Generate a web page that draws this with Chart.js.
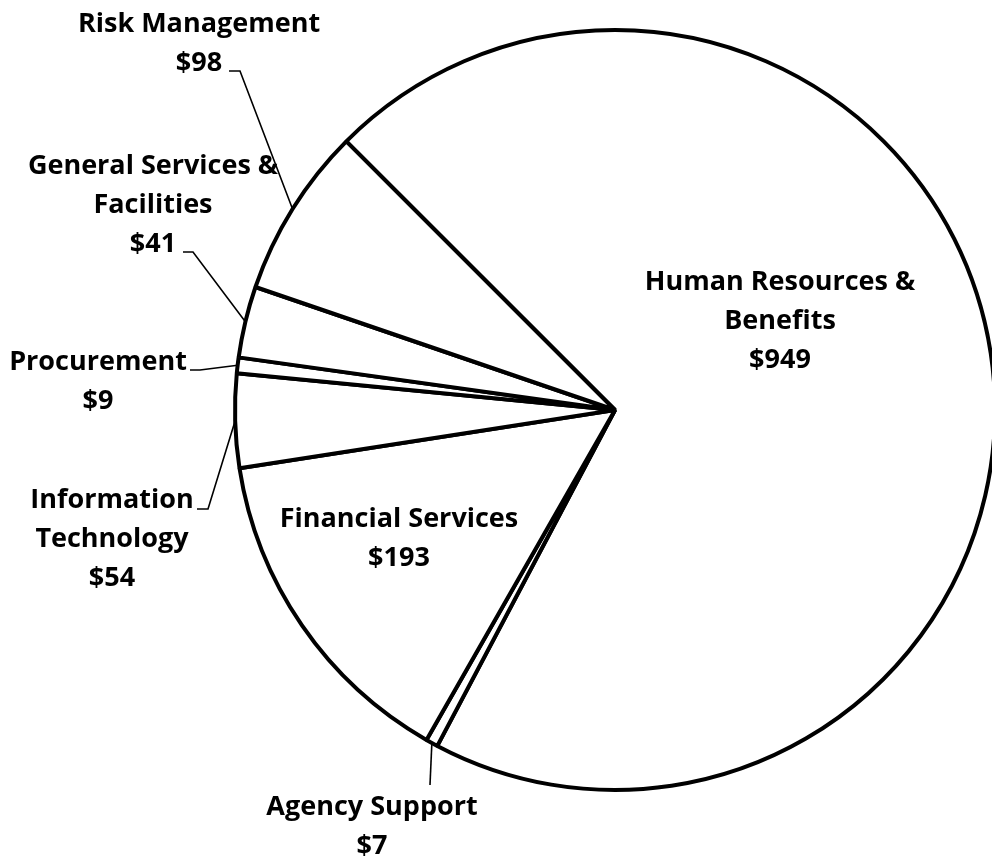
<!DOCTYPE html>
<html lang="en">
<head>
<meta charset="UTF-8">
<title>Spending by Function</title>
<style>
    html, body { margin: 0; padding: 0; background: #fff; overflow: hidden; }
    #wrap { width: 992px; height: 859px; position: relative; }
</style>
</head>
<body>
<div id="wrap"><canvas id="pieChart"></canvas></div>

<script src="https://cdn.jsdelivr.net/npm/chart.js"></script>
<script>
    // slices, clockwise from the upper-left boundary
    const categories = ['Human Resources &\nBenefits', 'Agency Support', 'Financial Services',
        'Information\nTechnology', 'Procurement', 'General Services &\nFacilities', 'Risk Management'];
    const amounts = [949, 7, 193, 54, 9, 41, 98];
    const valueLabels = amounts.map(v => '$' + v);

    // label placement: centre x, first baseline y, leader line points (ends at the slice edge)
    const labelLayout = [
        { x: 780, y: 290 },
        { x: 372, y: 815, leader: [[430, 785]] },
        { x: 399, y: 527 },
        { x: 112, y: 508, leader: [[197, 509], [208, 509]] },
        { x: 98, y: 370, leader: [[190, 370], [200, 370]] },
        { x: 153, y: 174, leader: [[183, 252], [193, 252]] },
        { x: 199, y: 32, leader: [[229, 71], [240, 71]] }
    ];
    const LINE_H = 39;
    const FONT = 'bold 27px "Open Sans", Lato, sans-serif';

    const sliceLabels = {
        id: 'sliceLabels',
        afterDatasetsDraw(chart) {
            const ctx = chart.ctx;
            const arcs = chart.getDatasetMeta(0).data;
            ctx.save();
            arcs.forEach((arc, i) => {
                const lay = labelLayout[i];
                const p = arc.getProps(['x', 'y', 'startAngle', 'endAngle', 'outerRadius'], true);
                if (lay.leader) {
                    const mid = (p.startAngle + p.endAngle) / 2;
                    const ex = p.x + Math.cos(mid) * p.outerRadius;
                    const ey = p.y + Math.sin(mid) * p.outerRadius;
                    ctx.beginPath();
                    ctx.moveTo(lay.leader[0][0], lay.leader[0][1]);
                    lay.leader.slice(1).forEach(pt => ctx.lineTo(pt[0], pt[1]));
                    ctx.lineTo(ex, ey);
                    ctx.strokeStyle = '#000';
                    ctx.lineWidth = 1.6;
                    ctx.stroke();
                }
                const lines = chart.data.labels[i].split('\n').concat(valueLabels[i]);
                ctx.font = FONT;
                ctx.fillStyle = '#000';
                ctx.textAlign = 'center';
                ctx.textBaseline = 'alphabetic';
                lines.forEach((t, k) => ctx.fillText(t, lay.x, lay.y + k * LINE_H));
            });
            ctx.restore();
        }
    };

    new Chart(document.getElementById('pieChart'), {
        type: 'pie',
        data: {
            labels: categories,
            datasets: [{
                data: amounts,
                backgroundColor: '#fff',
                borderColor: '#000',
                borderWidth: 4,
                radius: 380,
                clip: false
            }]
        },
        options: {
            responsive: true,
            maintainAspectRatio: false,
            animation: false,
            rotation: -45,
            layout: { padding: { left: 238, right: 0, top: 0, bottom: 39 } },
            plugins: {
                legend: { display: false },
                tooltip: { enabled: false }
            }
        },
        plugins: [sliceLabels]
    });
</script>
</body>
</html>
